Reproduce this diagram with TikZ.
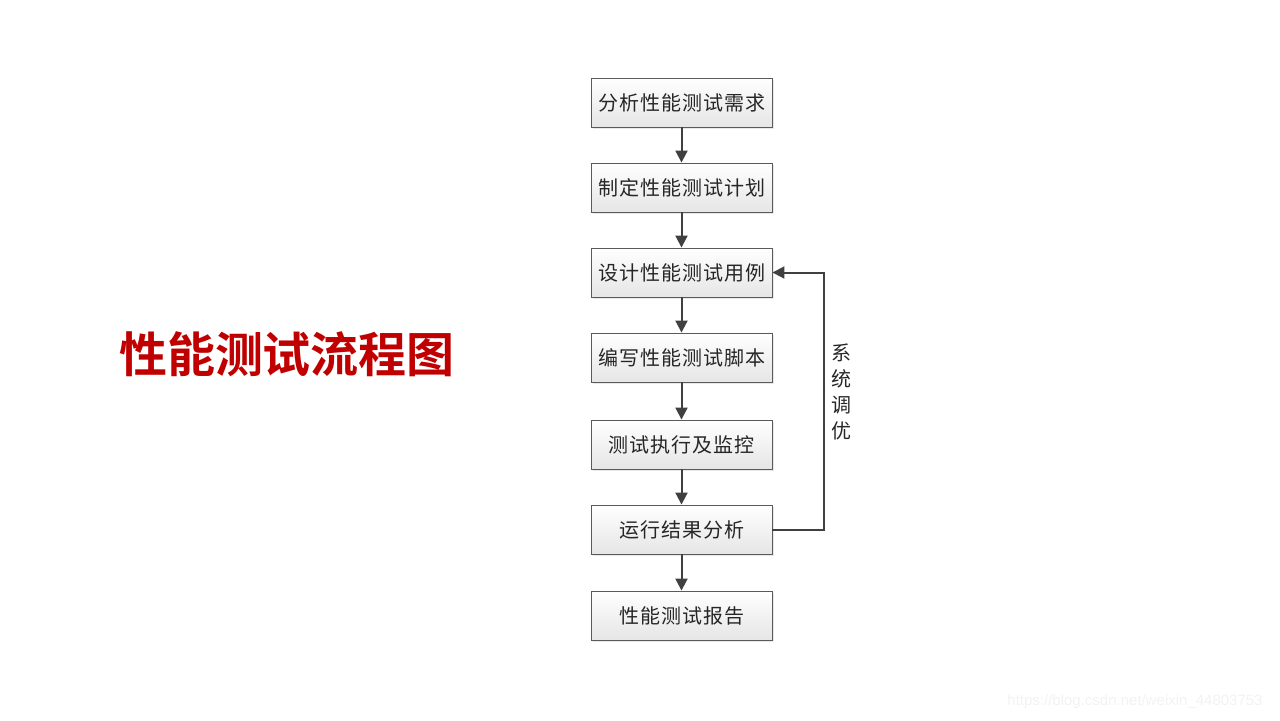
\documentclass[tikz,border=0pt]{standalone}
\usepackage{fontspec}
\setmainfont{Noto Sans CJK SC}[BoldFont={Noto Sans CJK SC Bold}]
\newfontfamily\boxfont{Noto Sans CJK SC}[LetterSpace=5]
\newfontfamily\urlfont{Liberation Sans}
\usetikzlibrary{shadows,arrows.meta}
\definecolor{linegray}{HTML}{404040}
\definecolor{boxgray}{HTML}{5A5A5A}
\definecolor{textgray}{HTML}{262626}
\definecolor{titlered}{HTML}{C00000}

\begin{document}
\begin{tikzpicture}[x=0.5pt,y=-0.5pt,
  stepbox/.style={draw=boxgray,line width=0.45pt,minimum width=90.5pt,minimum height=24.5pt,
    inner sep=0pt,shading=axis,top color=white,bottom color=gray!20,text=textgray,
    drop shadow={shadow xshift=1pt,shadow yshift=-1pt,fill=gray!35,opacity=0.5},
    font=\boxfont\fontsize{10}{12}\selectfont},
  flow/.style={-{Triangle[width=6pt,length=6pt]},line width=1pt,draw=linegray}]
\useasboundingbox (0,0) rectangle (1280,720);

\node (title) at (287, 354) [text=titlered,font=\fontsize{24}{28}\selectfont\bfseries] {性能测试流程图};

\node (need)   at (681.5, 102.5) [stepbox] {分析性能测试需求};
\node (plan)   at (681.5, 187.5) [stepbox] {制定性能测试计划};
\node (case)   at (681.5, 272.5) [stepbox] {设计性能测试用例};
\node (script) at (681.5, 357.5) [stepbox] {编写性能测试脚本};
\node (run)    at (681.5, 444.5) [stepbox] {测试执行及监控};
\node (result) at (681.5, 529.5) [stepbox] {运行结果分析};
\node (report) at (681.5, 615.5) [stepbox] {性能测试报告};

\coordinate (back) at (824, 0);

\draw [flow] (need)   -- (plan);
\draw [flow] (plan)   -- (case);
\draw [flow] (case)   -- (script);
\draw [flow] (script) -- (run);
\draw [flow] (run)    -- (result);
\draw [flow] (result) -- (report);
\draw [flow] (result.east) -| (back |- result.east) |- (case.east);

\node (tune) at (841, 392) [align=center,text=textgray,font=\fontsize{10}{13}\selectfont] {系\\统\\调\\优};

\node (url) at (1135, 702) [text=gray!10,font=\urlfont\fontsize{7.5}{9}\selectfont] {https://blog.csdn.net/weixin\_44803753};
\end{tikzpicture}
\end{document}
